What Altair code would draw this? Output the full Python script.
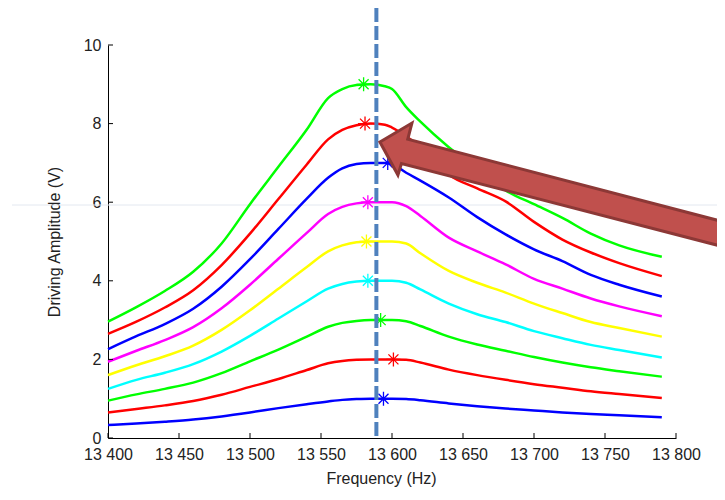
import altair as alt
import pandas as pd

# ---------------- data ----------------
freq = [13400, 13420, 13440, 13460, 13480, 13500, 13520, 13540, 13555, 13565,
        13575, 13585, 13595, 13600, 13610, 13620, 13640, 13660, 13680, 13700,
        13720, 13740, 13760, 13790]

v9 = [2.96, 3.33, 3.74, 4.23, 4.95, 5.95, 6.9, 7.85, 8.65, 8.88, 8.98, 9.0, 8.95, 8.88, 8.42, 8.05, 7.4, 6.85, 6.3, 5.95, 5.6, 5.2, 4.9, 4.61]
v8 = [2.65, 2.96, 3.32, 3.76, 4.4, 5.2, 6.08, 6.96, 7.6, 7.84, 7.96, 8.0, 7.97, 7.9, 7.68, 7.4, 6.7, 6.35, 6.02, 5.5, 5.05, 4.72, 4.45, 4.12]
v7 = [2.26, 2.59, 2.9, 3.29, 3.85, 4.55, 5.32, 6.09, 6.62, 6.86, 6.97, 7.0, 7.0, 6.97, 6.75, 6.55, 6.12, 5.62, 5.18, 4.8, 4.5, 4.15, 3.9, 3.6]
v6 = [1.94, 2.22, 2.49, 2.82, 3.3, 3.9, 4.56, 5.22, 5.7, 5.88, 5.97, 6.0, 6.0, 6.0, 5.9, 5.65, 5.1, 4.75, 4.42, 4.05, 3.8, 3.55, 3.35, 3.1]
v5 = [1.6, 1.85, 2.08, 2.35, 2.75, 3.25, 3.8, 4.35, 4.75, 4.9, 4.98, 5.0, 5.0, 5.0, 4.95, 4.7, 4.25, 3.95, 3.7, 3.42, 3.18, 2.95, 2.8, 2.58]
v4 = [1.25, 1.48, 1.66, 1.88, 2.2, 2.6, 3.04, 3.48, 3.8, 3.92, 3.98, 4.0, 4.0, 4.0, 3.95, 3.78, 3.42, 3.15, 2.95, 2.72, 2.54, 2.37, 2.24, 2.05]
v3 = [0.95, 1.11, 1.25, 1.41, 1.65, 1.95, 2.25, 2.58, 2.83, 2.93, 2.98, 3.0, 3.0, 3.0, 2.97, 2.85, 2.58, 2.38, 2.22, 2.06, 1.92, 1.8, 1.7, 1.56]
v2 = [0.65, 0.74, 0.83, 0.94, 1.1, 1.3, 1.5, 1.73, 1.9, 1.96, 1.99, 2.0, 2.0, 2.0, 1.99, 1.92, 1.74, 1.6, 1.48, 1.37, 1.28, 1.19, 1.12, 1.02]
v1 = [0.33, 0.37, 0.415, 0.47, 0.55, 0.65, 0.76, 0.86, 0.93, 0.97, 0.99, 1.0, 1.0, 1.0, 0.99, 0.96, 0.88, 0.81, 0.75, 0.7, 0.65, 0.61, 0.58, 0.53]

curve_names = ["1 V", "2 V", "3 V", "4 V", "5 V", "6 V", "7 V", "8 V", "9 V"]
curve_colors = ["#0000ff", "#ff0000", "#00ff00", "#00ffff", "#ffff00",
                "#ff00ff", "#0000ff", "#ff0000", "#00ff00"]
peak_freq = [13594, 13601, 13592, 13583, 13582, 13583, 13597, 13581, 13580]
peak_amp = [1, 2, 3, 4, 5, 6, 7, 8, 9]

marker_freq = [13589]          # dashed vertical line
arrow_tip = [(13591.5, 7.53)]  # tip of the annotation arrow

x_ticks = [13400, 13450, 13500, 13550, 13600, 13650, 13700, 13750, 13800]
y_ticks = [0, 2, 4, 6, 8, 10]

# ---------------- tables ----------------
series = [v1, v2, v3, v4, v5, v6, v7, v8, v9]
rows = []
for name, vals in zip(curve_names, series):
    for f, v in zip(freq, vals):
        rows.append({"curve": name, "freq": f, "amp": v})
df = pd.DataFrame(rows)
peaks = pd.DataFrame({"curve": curve_names, "freq": peak_freq, "amp": peak_amp})

W, H = 568, 393
FONT = "Liberation Sans"
color_scale = alt.Scale(domain=curve_names, range=curve_colors)
xs = alt.Scale(domain=[13400, 13800], nice=False, zero=False)
ys = alt.Scale(domain=[0, 10], nice=False)

lines = alt.Chart(df).mark_line(strokeWidth=2.5, interpolate="monotone").encode(
    x=alt.X("freq:Q", scale=xs,
            axis=alt.Axis(values=x_ticks, ticks=False, grid=False,
                          labelExpr="replace(format(datum.value, ','), ',', ' ')",
                          labelPadding=8, labelFontSize=16, labelFont=FONT,
                          labelColor="#222", domainColor="#000", domainWidth=1,
                          title="Frequency (Hz)", titleFontSize=16, titleFont=FONT,
                          titleFontWeight="normal", titleColor="#222",
                          titleX=273, titleY=40, titleBaseline="middle",
                          labelFlush=False)),
    y=alt.Y("amp:Q", scale=ys,
            axis=alt.Axis(values=y_ticks, ticks=False, grid=False,
                          labelPadding=7, labelFontSize=16, labelFont=FONT,
                          labelColor="#222", domainColor="#000", domainWidth=1,
                          title="Driving Amplitude (V)", titleFontSize=16,
                          titleFont=FONT, titleFontWeight="normal", titleColor="#222",
                          titleX=-54, titleY=H / 2, titleAlign="center",
                          titleBaseline="middle", labelFlush=False)),
    color=alt.Color("curve:N", scale=color_scale, legend=None),
    detail="curve:N",
    order="freq:Q",
)

star_path = "M-7,0L7,0M0,-7L0,7M-5,-5L5,5M-5,5L5,-5"
stars = alt.Chart(peaks).mark_point(shape=star_path, size=4, filled=False,
                                    strokeWidth=1.3, opacity=1).encode(
    x=alt.X("freq:Q", scale=xs),
    y=alt.Y("amp:Q", scale=ys),
    color=alt.Color("curve:N", scale=color_scale, legend=None),
)

xt = alt.Chart(pd.DataFrame({"t": x_ticks})).mark_rule(color="#000", strokeWidth=1).encode(
    x=alt.X("t:Q", scale=xs), y=alt.value(H), y2=alt.value(H - 5))
yt = alt.Chart(pd.DataFrame({"t": y_ticks})).mark_rule(color="#000", strokeWidth=1).encode(
    y=alt.Y("t:Q", scale=ys), x=alt.value(0), x2=alt.value(5))

faint = alt.Chart(pd.DataFrame({"a": [0]})).mark_rule(color="#e3e8f0", strokeWidth=1).encode(
    x=alt.value(-96), x2=alt.value(W + 60), y=alt.value(160))

dashed = alt.Chart(pd.DataFrame({"f": marker_freq})).mark_rule(
    color="#4f81bd", strokeWidth=4, strokeDash=[14, 4]).encode(
    x=alt.X("f:Q", scale=xs), y=alt.value(-37), y2=alt.value(H))

arrow_path = ("M0,0L32,-19L27.8,-2.8L360,84L360,109L21.5,21.4L18,33Z")
arrow = alt.Chart(pd.DataFrame({"f": [arrow_tip[0][0]], "a": [arrow_tip[0][1]]})).mark_point(
    shape=arrow_path, size=4, filled=True, fill="#c0504d", stroke="#8c3836",
    strokeWidth=3, opacity=1, strokeJoin="miter").encode(
    x=alt.X("f:Q", scale=xs), y=alt.Y("a:Q", scale=ys))

chart = alt.layer(faint, lines, stars, xt, yt, dashed, arrow).properties(
    width=W, height=H,
    padding={"left": 100, "top": 37, "right": 41, "bottom": 54},
    autosize=alt.AutoSizeParams(type="none"),
    background="white",
).configure_view(stroke=None)

chart.save("out.html", embed_options={"renderer": "svg", "actions": False})
